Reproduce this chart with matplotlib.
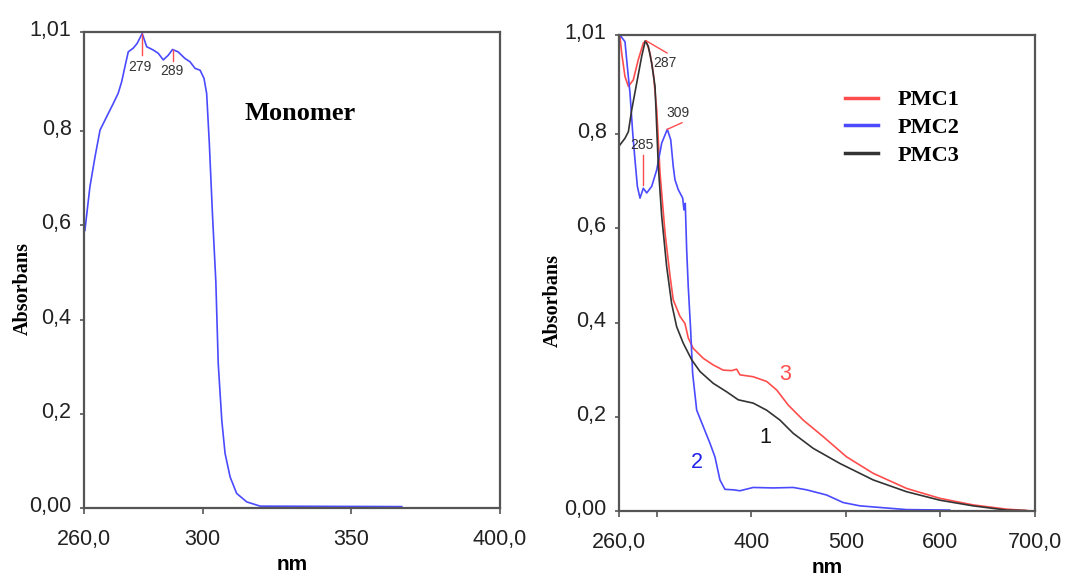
import numpy as np
import matplotlib.pyplot as plt
from matplotlib.transforms import ScaledTranslation

# --- Monomer spectrum ---
mono_nm = [260.3, 262.0, 263.7, 265.4, 267.6, 269.9, 271.5, 272.7, 273.8, 274.9,
           276.6, 277.9, 279.6, 281.1, 283.3, 285.0, 286.7, 288.4, 289.8, 291.7,
           294.0, 295.7, 297.4, 299.1, 300.4, 301.3, 302.2, 303.3, 304.4, 305.2,
           306.4, 307.5, 309.2, 311.4, 314.8, 319.3, 367.0]
mono_abs = [0.589, 0.682, 0.745, 0.802, 0.830, 0.859, 0.880, 0.905, 0.937, 0.968,
            0.976, 0.986, 1.007, 0.979, 0.972, 0.965, 0.951, 0.961, 0.973, 0.968,
            0.954, 0.947, 0.933, 0.929, 0.912, 0.880, 0.774, 0.618, 0.480, 0.307,
            0.186, 0.116, 0.066, 0.031, 0.013, 0.004, 0.003]

# --- Polymers ---
pmc1_nm = [261.0, 262.8, 266.3, 269.9, 275.1, 280.4, 285.7, 288.6, 292.8, 296.3,
           299.9, 303.4, 308.7, 313.9, 317.4, 324.5, 329.8, 333.3, 338.6, 349.2,
           359.7, 370.3, 379.2, 384.5, 388.0, 402.0, 416.2, 426.8, 439.0, 454.9,
           476.0, 500.8, 529.0, 564.3, 599.5, 634.7, 670.0, 692.9]
pmc1_abs = [1.007, 0.972, 0.922, 0.901, 0.915, 0.958, 0.993, 0.998, 0.972, 0.929,
            0.851, 0.717, 0.590, 0.500, 0.448, 0.413, 0.398, 0.367, 0.345, 0.324,
            0.310, 0.299, 0.298, 0.301, 0.289, 0.285, 0.275, 0.257, 0.225, 0.193,
            0.158, 0.115, 0.080, 0.048, 0.027, 0.013, 0.004, 0.001]

pmc2_nm = [261.0, 266.3, 268.8, 271.6, 274.5, 276.9, 279.4, 282.2, 285.7, 289.3,
           294.6, 299.9, 305.2, 311.1, 314.7, 317.4, 319.2, 322.7, 327.4, 328.7,
           330.1, 331.6, 333.3, 335.8, 337.9, 342.2, 349.2, 356.2, 361.5, 366.8,
           372.1, 380.9, 388.0, 402.0, 423.2, 444.3, 458.5, 479.7, 497.2, 514.9,
           539.5, 564.3, 610.0]
pmc2_abs = [1.010, 0.996, 0.943, 0.887, 0.802, 0.745, 0.689, 0.664, 0.685, 0.675,
            0.689, 0.724, 0.781, 0.810, 0.788, 0.731, 0.703, 0.682, 0.664, 0.639,
            0.653, 0.554, 0.475, 0.384, 0.292, 0.214, 0.179, 0.144, 0.115, 0.066,
            0.046, 0.045, 0.043, 0.050, 0.049, 0.050, 0.045, 0.034, 0.018, 0.011,
            0.007, 0.003, 0.002]

pmc3_nm = [261.0, 266.3, 269.9, 273.4, 278.7, 284.0, 287.8, 291.0, 294.6, 298.1,
           301.6, 305.2, 310.4, 315.7, 321.0, 328.0, 336.9, 345.7, 359.7, 373.9,
           386.2, 402.0, 416.2, 430.3, 444.3, 465.5, 493.7, 529.0, 564.3, 599.5,
           634.7, 670.0, 690.0]
pmc3_abs = [0.777, 0.791, 0.805, 0.851, 0.908, 0.965, 0.998, 0.986, 0.950, 0.901,
            0.731, 0.625, 0.519, 0.440, 0.391, 0.356, 0.321, 0.296, 0.271, 0.253,
            0.236, 0.229, 0.214, 0.193, 0.165, 0.133, 0.101, 0.066, 0.041, 0.023,
            0.011, 0.002, 0.001]

yticks = [0.0, 0.2, 0.4, 0.6, 0.8, 1.01]
ytick_labels = ['0,00', '0,2', '0,4', '0,6', '0,8', '1,01']
xticks_mono = [260, 300, 350, 400]
xtick_labels_mono = ['260,0', '300', '350', '400,0']
xticks_poly = [260, 300, 400, 500, 600, 700]
xtick_labels_poly = ['260,0', '', '400', '500', '600', '700,0']

red = '#ff4d4d'
blue = '#4a4aff'
black = '#333333'
sans = 'Liberation Sans'
serif = 'Liberation Serif'

fig = plt.figure(figsize=(10.66, 5.79), dpi=100)
ax1 = fig.add_axes([0.0788, 0.1226, 0.390, 0.822])
ax2 = fig.add_axes([0.5807, 0.1174, 0.390, 0.822])


def style(ax, xt, xl, xmax):
    ax.set_ylim(0, 1.01)
    ax.set_xlim(260, xmax)
    ax.set_yticks(yticks)
    ax.set_yticklabels(ytick_labels, fontfamily=sans, fontsize=15.5, color='#222222')
    ax.set_xticks(xt)
    ax.set_xticklabels(xl, fontfamily=sans, fontsize=15.5, color='#222222')
    for s in ax.spines.values():
        s.set_color('#555555')
        s.set_linewidth(1.6)
    ax.tick_params(axis='y', length=3, width=1.2, color='#555555', pad=6)
    ax.tick_params(axis='x', length=4, width=1.2, color='#555555', pad=11)
    # labels sit a little above their ticks in the original
    up = ScaledTranslation(0, 4 / 100, fig.dpi_scale_trans)
    for lab in ax.get_yticklabels():
        lab.set_transform(lab.get_transform() + up)
    ax.set_xlabel('nm', fontfamily=sans, fontsize=15, fontweight='bold', labelpad=4)
    ax.set_ylabel('Absorbans', fontfamily=serif, fontsize=14.5, fontweight='bold', va='center')


# Monomer
style(ax1, xticks_mono, xtick_labels_mono, 400)
ax1.plot(mono_nm, mono_abs, color=blue, lw=1.2)
ax1.plot([279.6, 279.6], [1.005, 0.961], color=red, lw=1)
ax1.plot([289.9, 289.9], [0.971, 0.948], color=red, lw=1)
ax1.text(278.9, 0.936, '279', fontsize=10, color='#333333', ha='center', va='center', fontfamily=sans)
ax1.text(289.6, 0.927, '289', fontsize=10, color='#333333', ha='center', va='center', fontfamily=sans)
ax1.text(332.7, 0.838, 'Monomer', fontsize=19, fontweight='bold', fontfamily=serif,
         ha='center', va='center')
ax1.yaxis.set_label_coords(-0.148, 0.462)

# Polymers
style(ax2, xticks_poly, xtick_labels_poly, 700)
ax2.plot(pmc1_nm, pmc1_abs, color=red, lw=1.2, label='PMC1')
ax2.plot(pmc2_nm, pmc2_abs, color=blue, lw=1.2, label='PMC2')
ax2.plot(pmc3_nm, pmc3_abs, color=black, lw=1.2, label='PMC3')
ax2.plot([288.6, 310.8], [0.998, 0.972], color=red, lw=1)
ax2.plot([311.1, 326.6], [0.810, 0.824], color=red, lw=1)
ax2.plot([285.4, 285.4], [0.756, 0.692], color=red, lw=1)
ax2.text(308.7, 0.951, '287', fontsize=10, color='#333333', ha='center', va='center', fontfamily=sans)
ax2.text(322.4, 0.845, '309', fontsize=10, color='#333333', ha='center', va='center', fontfamily=sans)
ax2.text(284.3, 0.777, '285', fontsize=10, color='#333333', ha='center', va='center', fontfamily=sans)
ax2.text(435.6, 0.289, '3', fontsize=15.5, color=red, ha='center', va='center', fontfamily=sans)
ax2.text(414.4, 0.157, '1', fontsize=15.5, color='#111111', ha='center', va='center', fontfamily=sans)
ax2.text(342.5, 0.102, '2', fontsize=15.5, color='#2222ee', ha='center', va='center', fontfamily=sans)
ax2.yaxis.set_label_coords(-0.159, 0.443)

leg = ax2.legend(loc='upper left', bbox_to_anchor=(0.543, 0.885), frameon=False,
                 borderpad=0, borderaxespad=0, handlelength=1.5, handletextpad=0.9,
                 labelspacing=0.33, prop={'family': serif, 'weight': 'bold', 'size': 16})
for ln in leg.get_lines():
    ln.set_linewidth(2.5)

fig.savefig('out.png', dpi=100)
